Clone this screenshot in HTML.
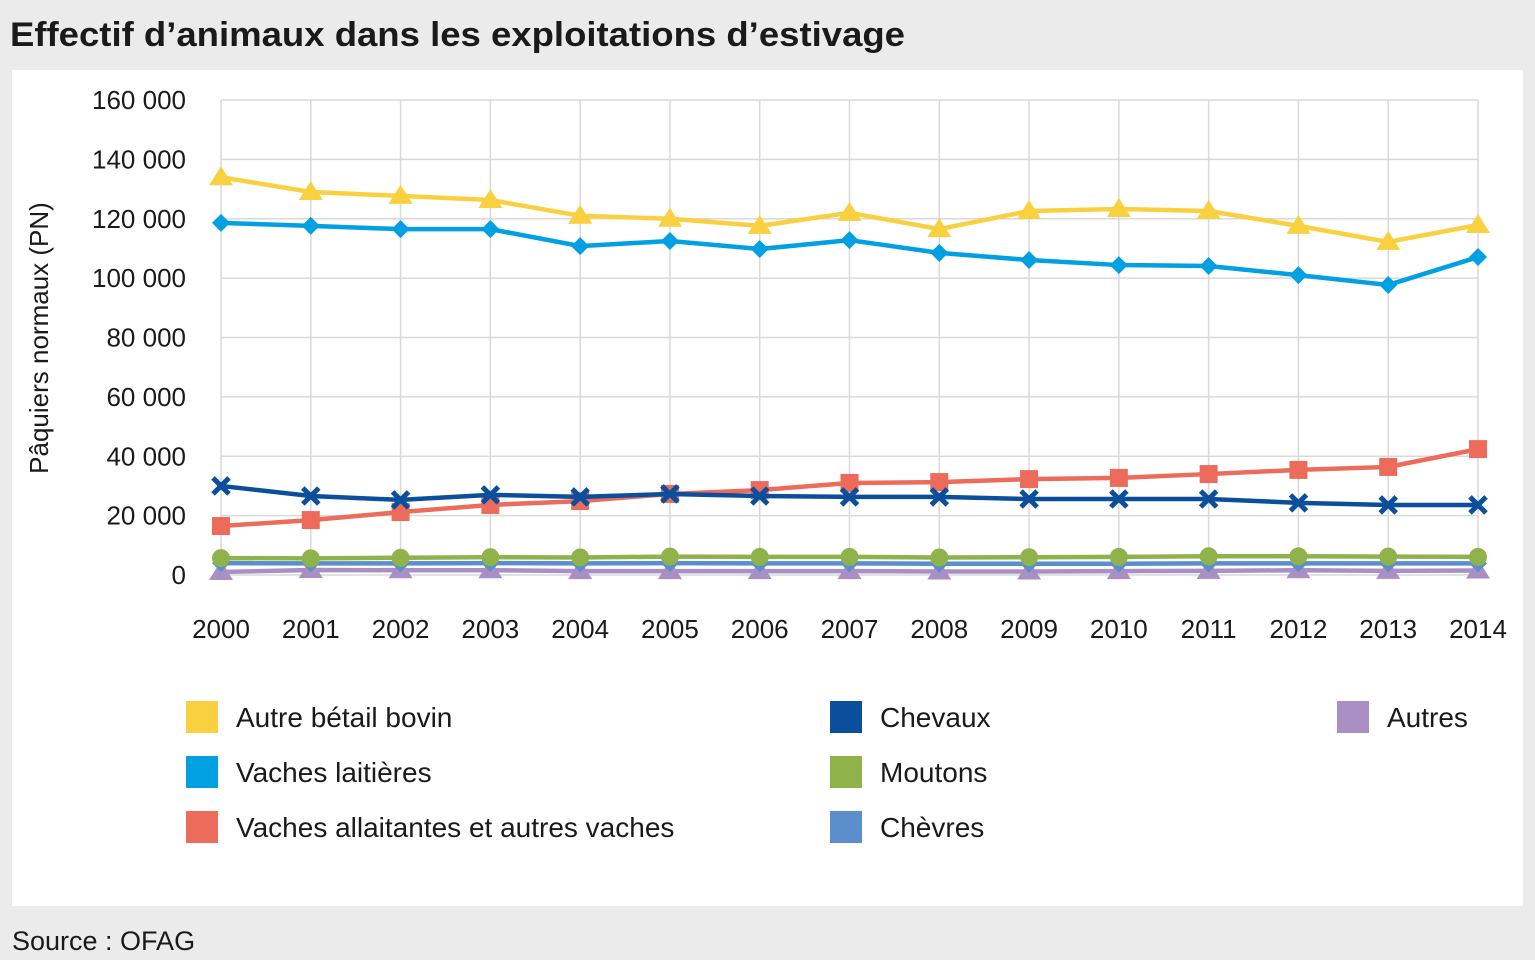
<!DOCTYPE html>
<html><head><meta charset="utf-8"><style>
html,body{margin:0;padding:0;background:#ebebeb;width:1535px;height:960px;overflow:hidden;font-family:"Liberation Sans Narrow","Liberation Sans",sans-serif;}
</style></head><body>
<svg id="c" width="1535" height="960" xmlns="http://www.w3.org/2000/svg">
<rect x="0" y="0" width="1535" height="960" fill="#ebebeb"/>
<text x="10" y="46" font-size="34" font-weight="bold" fill="#1a1a1a" textLength="895" lengthAdjust="spacingAndGlyphs">Effectif d’animaux dans les exploitations d’estivage</text>
<rect x="12" y="70" width="1511" height="836" fill="#fff"/>
<text x="12" y="950" font-size="27" fill="#1a1a1a">Source : OFAG</text>
<g id="grid"></g><g id="axes"></g><g id="series"></g><g id="legend"></g>
</svg>
<script>
const years=[2000,2001,2002,2003,2004,2005,2006,2007,2008,2009,2010,2011,2012,2013,2014];
const yTicks=[0,20000,40000,60000,80000,100000,120000,140000,160000];
const autreBetail=[134000,129000,127700,126300,121000,120000,117600,122000,116500,122600,123300,122600,117600,112200,117900];
const vachesLaitieres=[118600,117600,116500,116500,110800,112500,109800,112800,108500,106100,104400,104100,101000,97700,107100];
const vachesAllaitantes=[16500,18500,21200,23600,24900,27300,28600,31000,31300,32300,32700,34000,35400,36400,42400];
const chevaux=[30000,26600,25300,27000,26300,27300,26600,26300,26300,25600,25600,25600,24300,23600,23600];
const moutons=[5700,5600,5800,6000,5900,6200,6100,6100,5900,6000,6100,6300,6300,6200,6100];
const chevres=[4000,3900,3900,4000,3900,4000,3900,3900,3800,3800,3800,3900,3900,3900,3900];
const autres=[1000,1700,1600,1600,1300,1300,1300,1300,1200,1200,1300,1400,1600,1400,1500];
const NS='http://www.w3.org/2000/svg';
const X=i=>221+i*(1478-221)/14;
const Y=v=>575-v*(475/160000);
function mk(tag,attrs,parent){const e=document.createElementNS(NS,tag);for(const k in attrs)e.setAttribute(k,attrs[k]);document.getElementById(parent).appendChild(e);return e;}
yTicks.forEach(t=>{
 const l=mk('line',{x1:221,x2:1478,y1:Y(t),y2:Y(t),stroke:'#d9d9d9','stroke-width':1.5},'grid');
 
 
 const tx=mk('text',{x:186,y:Y(t)+9,'font-size':26,'text-anchor':'end',fill:'#1a1a1a'},'axes');
 tx.textContent=t===0?'0':(t/1000)+' 000';
 
 
});
years.forEach((yr,i)=>{
 const l=mk('line',{x1:X(i),x2:X(i),y1:Y(160000),y2:Y(0),stroke:'#d9d9d9','stroke-width':1.5},'grid');
 
 
 const tx=mk('text',{x:X(i),y:638,'font-size':26,'text-anchor':'middle',fill:'#1a1a1a'},'axes');
 tx.textContent=yr;
 
 
});
const yt=mk('text',{x:48,y:338,'font-size':26,'text-anchor':'middle',fill:'#1a1a1a',transform:'rotate(-90 48 338)'},'axes');
yt.textContent='Pâquiers normaux (PN)';


function marker(shape,x,y,col){
 if(shape==='tri')return mk('polygon',{points:`${x},${y-11} ${x+12},${y+8} ${x-12},${y+8}`,fill:col},'series');
 if(shape==='dia')return mk('polygon',{points:`${x},${y-9} ${x+9},${y} ${x},${y+9} ${x-9},${y}`,fill:col},'series');
 if(shape==='sq')return mk('rect',{x:x-9,y:y-9,width:18,height:18,fill:col},'series');
 if(shape==='circ')return mk('circle',{cx:x,cy:y,r:9,fill:col},'series');
 if(shape==='x')return mk('path',{d:`M${x-8},${y-8}L${x+8},${y+8}M${x+8},${y-8}L${x-8},${y+8}`,stroke:col,'stroke-width':5},'series');
}
const series=[
 {n:'Autres',d:autres,c:'#a98fc4',s:'tri',k:'autres'},
 {n:'Chèvres',d:chevres,c:'#5b8fcc',s:'dia',k:'chevres'},
 {n:'Moutons',d:moutons,c:'#8fb34a',s:'circ',k:'moutons'},
 {n:'Vaches allaitantes et autres vaches',d:vachesAllaitantes,c:'#ec6b5a',s:'sq',k:'vaches-allaitantes'},
 {n:'Chevaux',d:chevaux,c:'#0b4f9c',s:'x',k:'chevaux'},
 {n:'Vaches laitières',d:vachesLaitieres,c:'#00a0e3',s:'dia',k:'vaches-laitieres'},
 {n:'Autre bétail bovin',d:autreBetail,c:'#f9d03f',s:'tri',k:'autre-betail-bovin'}
];
series.forEach(s=>{
 const p=mk('polyline',{points:s.d.map((v,i)=>X(i)+','+Y(v)).join(' '),fill:'none',stroke:s.c,'stroke-width':4.5},'series');
 
 
 s.d.forEach((v,i)=>{const m=marker(s.s,X(i),Y(v),s.c);
  
  });
});
const leg=[
 ['Autre bétail bovin','#f9d03f',186,717],['Vaches laitières','#00a0e3',186,772],['Vaches allaitantes et autres vaches','#ec6b5a',186,827],
 ['Chevaux','#0b4f9c',830,717],['Moutons','#8fb34a',830,772],['Chèvres','#5b8fcc',830,827],['Autres','#a98fc4',1337,717]
];
leg.forEach(l=>{
 const r=mk('rect',{x:l[2],y:l[3]-16,width:32,height:32,fill:l[1]},'legend');
 
 
 const t=mk('text',{x:l[2]+50,y:l[3]+10,'font-size':28,fill:'#1a1a1a'},'legend');
 t.textContent=l[0];
 
 
});
</script>
</body></html>
